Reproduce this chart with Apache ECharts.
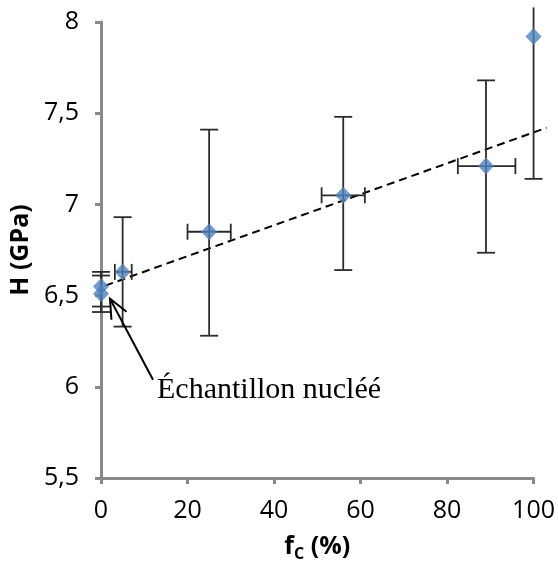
<!DOCTYPE html>
<html>
<head>
<meta charset="utf-8">
<script src="https://cdn.jsdelivr.net/npm/echarts@6/dist/echarts.min.js"></script>
<style>
html,body{margin:0;padding:0;background:#fff;}
#chart{width:558px;height:570px;}
</style>
</head>
<body>
<div id="chart"></div>
<script>
// ---- data ----
const fcValues   = [0, 0, 5, 25, 56, 89, 100];             // f_C (%)
const hValues    = [6.55, 6.51, 6.63, 6.85, 7.05, 7.21, 7.92]; // H (GPa)
const hLow       = [6.44, 6.41, 6.33, 6.28, 6.64, 6.735, 7.14];
const hHigh      = [6.63, 6.61, 6.93, 7.41, 7.48, 7.68, 8.08];
const fcLow      = [0, 0, 3.2, 20, 51, 82.5, 100];
const fcHigh     = [0, 0, 7.1, 30, 61, 95.8, 100];
const trendX     = [1, 103];
const trendY     = [6.555, 7.42];
const xTicks     = [0, 20, 40, 60, 80, 100];
const yTicks     = [5.5, 6, 6.5, 7, 7.5, 8];
const annotPoint = [0, 6.51];
const annotText  = 'Échantillon nucléé';

const FONT = '"Open Sans", sans-serif';

const pts = fcValues.map((x, i) => [x, hValues[i]]);
const errData = fcValues.map((x, i) => [x, hValues[i], hLow[i], hHigh[i], fcLow[i], fcHigh[i]]);
const trendData = [[trendX[0], trendY[0], trendX[1], trendY[1]]];

const chart = echarts.init(document.getElementById('chart'), null, {renderer: 'canvas'});

function renderErr(params, api) {
  const x = api.value(0), y = api.value(1);
  const yl = api.value(2), yh = api.value(3), xl = api.value(4), xh = api.value(5);
  const pLow = api.coord([x, yl]), pHigh = api.coord([x, yh]);
  const pxl = api.coord([xl, y]), pxh = api.coord([xh, y]);
  const cap = 9;
  const st = {stroke: '#2b2b2b', lineWidth: 1.8};
  const ch = [];
  ch.push({type: 'line', shape: {x1: pLow[0], y1: pLow[1], x2: pHigh[0], y2: pHigh[1]}, style: st});
  ch.push({type: 'line', shape: {x1: pLow[0] - cap, y1: pLow[1], x2: pLow[0] + cap, y2: pLow[1]}, style: st});
  if (yh < 8) ch.push({type: 'line', shape: {x1: pHigh[0] - cap, y1: pHigh[1], x2: pHigh[0] + cap, y2: pHigh[1]}, style: st});
  if (xh > xl) {
    ch.push({type: 'line', shape: {x1: pxl[0], y1: pxl[1], x2: pxh[0], y2: pxh[1]}, style: st});
    ch.push({type: 'line', shape: {x1: pxl[0], y1: pxl[1] - 8, x2: pxl[0], y2: pxl[1] + 8}, style: st});
    ch.push({type: 'line', shape: {x1: pxh[0], y1: pxh[1] - 8, x2: pxh[0], y2: pxh[1] + 8}, style: st});
  }
  return {type: 'group', children: ch};
}

function renderTrend(params, api) {
  const a = api.coord([api.value(0), api.value(1)]);
  const b = api.coord([api.value(2), api.value(3)]);
  return {type: 'line', shape: {x1: a[0], y1: a[1], x2: b[0], y2: b[1]},
    style: {stroke: '#000', lineWidth: 2, lineDash: [8, 5]}};
}

function renderAnnot(params, api) {
  const p = api.coord([api.value(0), api.value(1)]);
  const tip = [p[0] + 9, p[1] + 5];
  const tail = [p[0] + 52, p[1] + 86];
  const dx = tail[0] - tip[0], dy = tail[1] - tip[1];
  const L = Math.sqrt(dx * dx + dy * dy);
  const ux = dx / L, uy = dy / L;
  const a = 24 * Math.PI / 180, wl = 21;
  const w1 = [tip[0] + wl * (ux * Math.cos(a) - uy * Math.sin(a)), tip[1] + wl * (ux * Math.sin(a) + uy * Math.cos(a))];
  const w2 = [tip[0] + wl * (ux * Math.cos(-a) - uy * Math.sin(-a)), tip[1] + wl * (ux * Math.sin(-a) + uy * Math.cos(-a))];
  const st = {stroke: '#000', lineWidth: 2};
  return {type: 'group', children: [
    {type: 'line', shape: {x1: tip[0], y1: tip[1], x2: tail[0], y2: tail[1]}, style: st},
    {type: 'polyline', shape: {points: [w1, tip, w2]}, style: {stroke: '#000', lineWidth: 2, fill: null}},
    {type: 'text', x: p[0] + 56, y: p[1] + 111, style: {
      text: annotText, fill: '#000', font: '30px "Liberation Serif", "DejaVu Serif", serif',
      verticalAlign: 'bottom', align: 'left'}}
  ]};
}

const option = {
  animation: false,
  backgroundColor: '#fff',
  grid: {left: 101, right: 23, top: 22, bottom: 92, containLabel: false},
  xAxis: {
    type: 'value', min: xTicks[0], max: xTicks[xTicks.length - 1], interval: 20,
    name: '{a|f}{b|C}{a| (%)}', nameLocation: 'middle', nameGap: 54,
    nameTextStyle: {
      rich: {
        a: {fontFamily: FONT, fontSize: 25, fontWeight: 'bold', color: '#000', lineHeight: 30},
        b: {fontFamily: FONT, fontSize: 16, fontWeight: 'bold', color: '#000', lineHeight: 30, padding: [14, 0, 0, 0]}
      }
    },
    axisLine: {show: true, onZero: false, lineStyle: {color: '#898989', width: 3}},
    axisTick: {show: true, length: 6, lineStyle: {color: '#898989', width: 3}},
    axisLabel: {fontFamily: FONT, fontSize: 25, color: '#000', margin: 20},
    splitLine: {show: false}
  },
  yAxis: {
    type: 'value', min: yTicks[0], max: yTicks[yTicks.length - 1], interval: 0.5,
    name: 'H (GPa)', nameLocation: 'middle', nameGap: 66,
    nameTextStyle: {fontFamily: FONT, fontSize: 25, fontWeight: 'bold', color: '#000'},
    axisLine: {show: true, onZero: false, lineStyle: {color: '#898989', width: 3}},
    axisTick: {show: true, length: 6, lineStyle: {color: '#898989', width: 3}},
    axisLabel: {fontFamily: FONT, fontSize: 25, color: '#000', margin: 22,
      formatter: v => String(v).replace('.', ',')},
    splitLine: {show: false}
  },
  series: [
    {
      type: 'custom', data: trendData, renderItem: renderTrend, clip: false, z: 2,
      encode: {x: [0, 2], y: [1, 3]}
    },
    {
      type: 'custom', data: errData, renderItem: renderErr, clip: false, z: 3,
      encode: {x: 0, y: 1}
    },
    {
      type: 'scatter', data: pts, symbol: 'diamond', symbolSize: [16, 17], z: 4,
      itemStyle: {color: '#4F81BD'}
    },
    {
      type: 'custom', data: [annotPoint], renderItem: renderAnnot, clip: false, z: 5,
      encode: {x: 0, y: 1}
    }
  ]
};
chart.setOption(option);
</script>
</body>
</html>
